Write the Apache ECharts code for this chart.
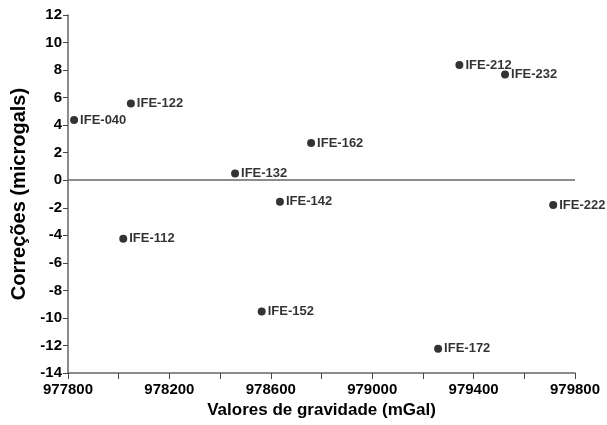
<!DOCTYPE html>
<html><head><meta charset="utf-8">
<script src="https://cdn.jsdelivr.net/npm/echarts@6/dist/echarts.min.js"></script>
<style>html,body{margin:0;padding:0;background:#fff}#c{width:607px;height:425px}</style>
</head><body><div id="c"></div>
<script>
var stations = ['IFE-040','IFE-122','IFE-112','IFE-132','IFE-162','IFE-142','IFE-152','IFE-172','IFE-212','IFE-232','IFE-222'];
var gravity = [977824, 978048, 978018, 978459, 978759, 978636, 978564, 979260, 979344, 979524, 979714];
var corrections = [4.37, 5.58, -4.25, 0.49, 2.70, -1.56, -9.53, -12.24, 8.37, 7.68, -1.80];
var xTicks = [977800, 978200, 978600, 979000, 979400, 979800];
var yTicks = [-14, -12, -10, -8, -6, -4, -2, 0, 2, 4, 6, 8, 10, 12];

var data = stations.map(function (s, i) { return { name: s, value: [gravity[i], corrections[i]] }; });
var font = 'Liberation Sans, Arial, sans-serif';
var chart = echarts.init(document.getElementById('c'), null, { renderer: 'canvas' });
chart.setOption({
  animation: false,
  grid: { left: 68, top: 15, right: 32, bottom: 52, containLabel: false },
  xAxis: {
    type: 'value', min: 977800, max: 979800, interval: 200,
    name: 'Valores de gravidade (mGal)', nameLocation: 'middle', nameGap: 29,
    nameTextStyle: { fontFamily: font, fontWeight: 'bold', fontSize: 17, color: '#000' },
    axisLine: { show: true, onZero: false, lineStyle: { color: '#666', width: 1.5 } },
    axisTick: { show: true, length: 6, lineStyle: { color: '#444' } },
    splitLine: { show: false },
    axisLabel: {
      fontFamily: font, fontWeight: 'bold', fontSize: 15, color: '#000', margin: 9,
      formatter: function (v) { return xTicks.indexOf(v) >= 0 ? String(v) : ''; }
    }
  },
  yAxis: {
    type: 'value', min: -14, max: 12, interval: 2,
    name: 'Correções (microgals)', nameLocation: 'middle', nameGap: 36,
    nameTextStyle: { fontFamily: font, fontWeight: 'bold', fontSize: 20, color: '#000' },
    axisLine: { show: true, onZero: false, lineStyle: { color: '#666', width: 1.5 } },
    axisTick: { show: true, length: 5, lineStyle: { color: '#444' } },
    splitLine: { show: false },
    axisLabel: {
      fontFamily: font, fontWeight: 'bold', fontSize: 15, color: '#000', margin: 6,
      formatter: function (v) { return yTicks.indexOf(v) >= 0 ? String(v) : ''; }
    }
  },
  series: [{
    type: 'scatter', data: data, symbol: 'circle', symbolSize: 8,
    itemStyle: { color: '#000' },
    label: {
      show: true, position: 'right', distance: 2, formatter: '{b}',
      fontFamily: font, fontWeight: 'bold', fontSize: 13, color: '#000'
    },
    markLine: {
      silent: true, symbol: ['none', 'none'], label: { show: false },
      lineStyle: { color: '#666', width: 1.5, type: 'solid' },
      data: [{ yAxis: 0 }]
    }
  }]
});
</script></body></html>
